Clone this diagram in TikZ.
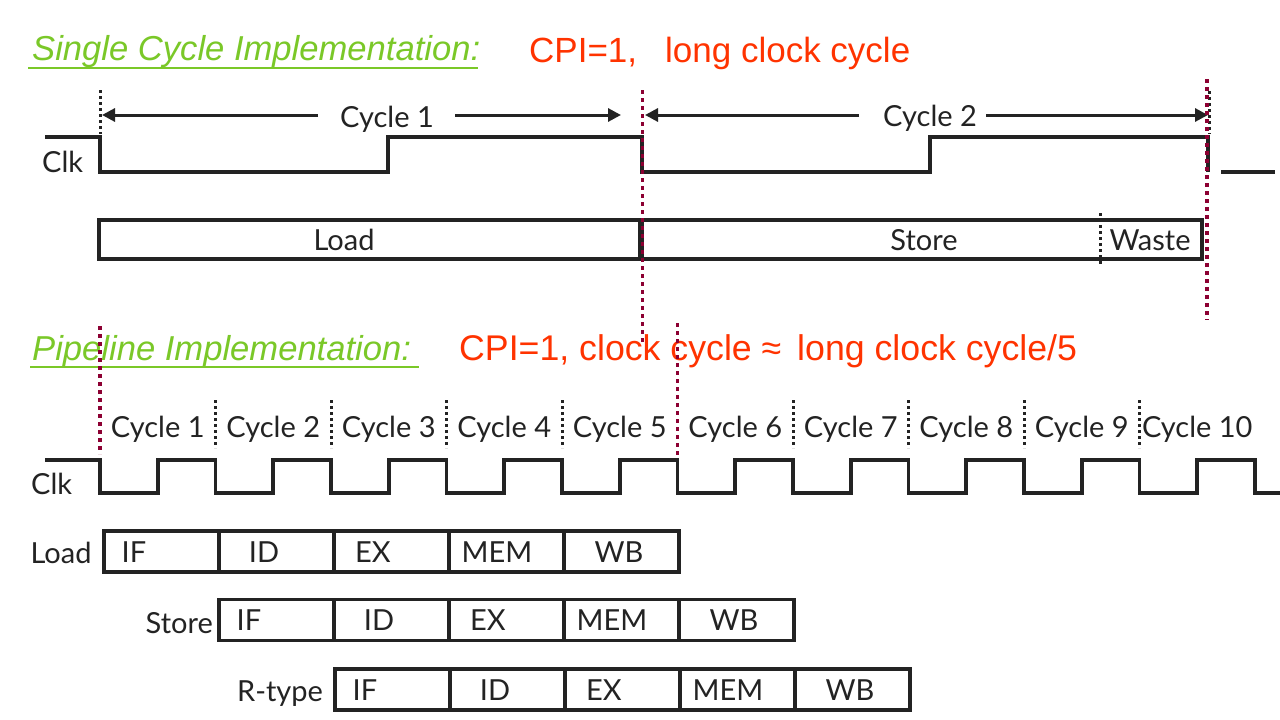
\documentclass[tikz,border=0pt]{standalone}
\usepackage{fontspec}
\setmainfont{Lato}
\newfontfamily\hdfont{Liberation Sans}
\usetikzlibrary{arrows.meta}
\definecolor{hgreen}{RGB}{122,200,40}
\definecolor{hred}{RGB}{255,51,0}
\definecolor{mdark}{RGB}{140,0,50}
\definecolor{ink}{RGB}{35,35,35}
\begin{document}
\begin{tikzpicture}[x=1pt,y=-1pt,
  sig/.style={draw=ink,line width=3.6pt},
  bdot/.style={draw=ink,line width=3pt,dash pattern=on 3pt off 3pt},
  mdot/.style={draw=mdark,line width=3.2pt,dash pattern=on 4pt off 4pt},
  lbl/.style={font=\fontsize{29}{32}\selectfont,text=ink,inner sep=0pt},
  greenhd/.style={font=\hdfont\itshape\fontsize{34.6}{38}\selectfont,text=hgreen,inner sep=0pt,anchor=base west},
  redhd/.style={font=\hdfont\fontsize{35}{38}\selectfont,text=hred,inner sep=0pt,anchor=base west},
  cyc/.style={draw=ink,line width=3pt,-{Triangle[length=13pt,width=13pt]}},
  bigbox/.style={draw=ink,line width=3.6pt,minimum height=39pt,inner sep=0pt},
  stgbox/.style={draw=ink,line width=3.6pt,minimum width=115pt,minimum height=41pt,inner sep=0pt,anchor=west},
  uline/.style={draw=hgreen,line width=2.2pt},
]
\fill[white] (0,0) rectangle (1280,720);
\useasboundingbox (0,0) rectangle (1280,720);

% ---------- headers ----------
\node[greenhd] (h1) at (32,60) {Single Cycle Implementation:};
\coordinate (u1a) at (28,68); \coordinate (u1b) at (478,68);
\draw[uline] (u1a) -- (u1b);
\node[redhd] (r1) at (529,62) {CPI=1,\hspace{28pt}long clock cycle};

\node[greenhd] (h2) at (32,360) {Pipeline Implementation:};
\coordinate (u2a) at (30,367); \coordinate (u2b) at (419,367);
\draw[uline] (u2a) -- (u2b);
\node[redhd,font=\hdfont\fontsize{35.7}{38}\selectfont] (r2) at (459,360) {CPI=1, clock cycle ≈\hspace{6pt} long clock cycle/5};

% ---------- single cycle ----------
\node[lbl,anchor=base west] (clk1) at (42,172) {Clk};
\draw[sig] (45,137) -- (100,137) -- (100,172) -- (388,172) -- (388,137) -- (642,137)
  -- (642,172) -- (930,172) -- (930,137) -- (1208,137) -- (1208,172);
\draw[sig] (1221,172) -- (1275,172);

\node[lbl,anchor=base] (c1) at (387,127) {Cycle 1};
\coordinate (c1l) at (102,115); \coordinate (c1a) at (318,115);
\coordinate (c1b) at (455,115); \coordinate (c1r) at (621,115);
\draw[cyc] (c1a) -- (c1l);
\draw[cyc] (c1b) -- (c1r);

\node[lbl,anchor=base] (c2) at (930,126) {Cycle 2};
\coordinate (c2l) at (645,115); \coordinate (c2a) at (859,115);
\coordinate (c2b) at (986,115); \coordinate (c2r) at (1208,115);
\draw[cyc] (c2a) -- (c2l);
\draw[cyc] (c2b) -- (c2r);

\coordinate (d1a) at (100,90); \coordinate (d1b) at (100,134);
\draw[bdot] (d1a) -- (d1b);
\coordinate (d2a) at (1209,91); \coordinate (d2b) at (1209,134);
\draw[bdot] (d2a) -- (d2b);

\node[bigbox,minimum width=541pt,anchor=west] (ld) at (97,239.5) {};
\node[bigbox,minimum width=560pt,anchor=west] (stw) at (640,239.5) {};
\node[lbl,anchor=base] (ldt) at (344,250) {Load};
\node[lbl,anchor=base] (stt) at (924,250) {Store};
\node[lbl,anchor=base] (wst) at (1150,250) {Waste};
\coordinate (wd1) at (1100,213); \coordinate (wd2) at (1100,265);
\draw[bdot] (wd1) -- (wd2);

\coordinate (m1a) at (642.5,90); \coordinate (m1b) at (642.5,344);
\draw[mdot] (m1a) -- (m1b);
\coordinate (m2a) at (1207,79); \coordinate (m2b) at (1207,320);
\draw[mdot] (m2a) -- (m2b);

% ---------- pipeline ----------
\node[lbl,anchor=base west] (clk2) at (31,494) {Clk};
\draw[sig] (45,460) -- (100,460)
  \foreach \i in {0,...,9} { -- ++(0,33) -- ++(57.75,0) -- ++(0,-33) -- ++(57.75,0) }
  -- ++(0,33) -- (1280,493);

\foreach \i in {1,...,10} {
  \node[lbl,anchor=base] (pc\i) at (42.25+115.5*\i,437) {Cycle \i};
}
\foreach \i in {1,2,3,4,6,7,8,9} {
  \coordinate (sa\i) at (100+115.5*\i,400);
  \coordinate (sb\i) at (100+115.5*\i,448);
  \draw[bdot] (sa\i) -- (sb\i);
}
\coordinate (m3a) at (100,326); \coordinate (m3b) at (100,454);
\draw[mdot] (m3a) -- (m3b);
\coordinate (m4a) at (677.5,323); \coordinate (m4b) at (677.5,456);
\draw[mdot] (m4a) -- (m4b);

% ---------- pipeline stages ----------
\node[lbl,anchor=base] (lload) at (61,563) {Load};
\node[lbl,anchor=base east] (lstore) at (213,633) {Store};
\node[lbl,anchor=base] (lrt) at (280,701) {R-type};
\foreach \row/\x/\y in {L/102/551.5, S/217/620, R/333/689.5} {
  \foreach \st/\k/\off in {IF/0/32, ID/1/47, EX/2/41, MEM/3/50, WB/4/57} {
    \node[stgbox] (\row\k) at (\x+115*\k,\y) {};
    \node[lbl,anchor=base] (\row t\k) at (\x+115*\k+\off,\y+10.5) {\st};
  }
}
\end{tikzpicture}
\end{document}
